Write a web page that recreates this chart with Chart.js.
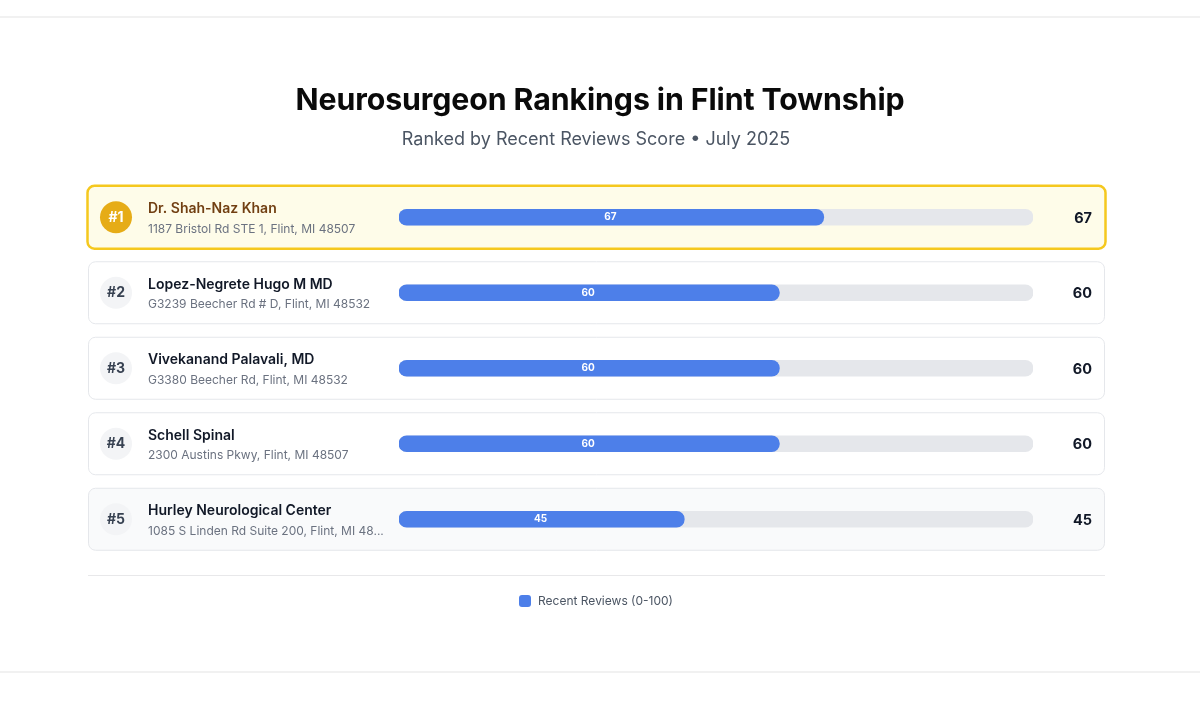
<!DOCTYPE html>
<html>
<head>
<meta charset="utf-8">
<script src="https://cdn.jsdelivr.net/npm/chart.js@4.4.1/dist/chart.umd.min.js"></script>
<style>
  html, body { margin: 0; padding: 0; background: #ffffff; }
  body { width: 1200px; height: 713px; position: relative; overflow: hidden; font-family: Inter, "Noto Sans", sans-serif; }
  .rule { position: absolute; left: 0; width: 1200px; height: 2px; background: #f1f1f1; }
  #chartWrap { position: absolute; left: 0; top: 0; width: 1200px; height: 713px; }
  h1 { position: absolute; left: 0; width: 1200px; top: 81px; margin: 0; text-align: center; font: 700 30.3px Inter, sans-serif; color: #0a0a0a; letter-spacing: -0.1px; padding-left: 0; }
  .sub { position: absolute; left: 0; width: 1192px; top: 128px; text-align: center; font: 400 18px Inter, sans-serif; color: #4b5563; }
  .sep { position: absolute; left: 88px; width: 1017px; top: 575px; height: 1px; background: #e8e8ea; }
  .legend { position: absolute; left: 0; width: 1192px; top: 593px; text-align: center; font: 400 12px Inter, sans-serif; color: #4b5563; }
  .legend .sw { display: inline-block; width: 12px; height: 12px; border-radius: 3px; background: #4d7fe9; vertical-align: -2px; margin-right: 7px; }
</style>
</head>
<body>
<div class="rule" style="top:16px"></div>
<div class="rule" style="top:671px"></div>
<div id="chartWrap"><canvas id="c" width="1200" height="713"></canvas></div>
<h1>Neurosurgeon Rankings in Flint Township</h1>
<div class="sub">Ranked by Recent Reviews Score • July 2025</div>
<div class="sep"></div>
<div class="legend"><span class="sw"></span>Recent Reviews (0-100)</div>
<script>
const names = ["Dr. Shah-Naz Khan", "Lopez-Negrete Hugo M MD", "Vivekanand Palavali, MD", "Schell Spinal", "Hurley Neurological Center"];
const addresses = ["1187 Bristol Rd STE 1, Flint, MI 48507", "G3239 Beecher Rd # D, Flint, MI 48532", "G3380 Beecher Rd, Flint, MI 48532", "2300 Austins Pkwy, Flint, MI 48507", "1085 S Linden Rd Suite 200, Flint, MI 48532"];
const ranks = ["#1", "#2", "#3", "#4", "#5"];
const scores = [67, 60, 60, 60, 45];
const maxScore = [100, 100, 100, 100, 100];

function roundRect(ctx, x, y, w, h, r) {
  ctx.beginPath();
  ctx.moveTo(x + r, y);
  ctx.lineTo(x + w - r, y);
  ctx.arcTo(x + w, y, x + w, y + r, r);
  ctx.lineTo(x + w, y + h - r);
  ctx.arcTo(x + w, y + h, x + w - r, y + h, r);
  ctx.lineTo(x + r, y + h);
  ctx.arcTo(x, y + h, x, y + h - r, r);
  ctx.lineTo(x, y + r);
  ctx.arcTo(x, y, x + r, y, r);
  ctx.closePath();
}

function truncate(ctx, text, maxW) {
  if (ctx.measureText(text).width <= maxW) return text;
  let t = text;
  while (t.length > 0 && ctx.measureText(t + "...").width > maxW) t = t.slice(0, -1);
  return t.trimEnd() + "...";
}

const cardsPlugin = {
  id: 'cards',
  beforeDatasetsDraw(chart) {
    const ctx = chart.ctx;
    const ys = chart.scales.y;
    ctx.save();
    names.forEach((n, i) => {
      const cy = ys.getPixelForValue(i);
      const top = cy - 31.5, h = 63;
      if (i === 0) {
        roundRect(ctx, 87.5, top, 1018, h, 7);
        ctx.fillStyle = '#fefce9';
        ctx.fill();
        ctx.lineWidth = 2.5;
        ctx.strokeStyle = '#f5c81e';
        ctx.stroke();
      } else {
        roundRect(ctx, 88.5, top + 0.5, 1016, h - 1, 7);
        ctx.fillStyle = i === 4 ? '#f9fafb' : '#ffffff';
        ctx.fill();
        ctx.lineWidth = 1;
        ctx.strokeStyle = '#e5e7eb';
        ctx.stroke();
      }
      // rank circle
      ctx.beginPath();
      ctx.arc(116, cy, 16, 0, Math.PI * 2);
      ctx.fillStyle = i === 0 ? '#e6ac17' : '#f3f4f6';
      ctx.fill();
      ctx.fillStyle = i === 0 ? '#ffffff' : '#374151';
      ctx.font = '700 14px Inter, sans-serif';
      ctx.textAlign = 'center';
      ctx.textBaseline = 'middle';
      ctx.fillText(ranks[i], 116, cy + 0.5);
      // name
      ctx.textAlign = 'left';
      ctx.font = '600 14px Inter, sans-serif';
      ctx.fillStyle = i === 0 ? '#713f12' : '#111827';
      ctx.fillText(n, 148, cy - 8);
      // address
      ctx.font = '400 12px Inter, sans-serif';
      ctx.fillStyle = '#6b7280';
      ctx.fillText(truncate(ctx, addresses[i], 236), 148, cy + 12);
      // right score
      ctx.font = '700 14.5px Inter, sans-serif';
      ctx.fillStyle = '#111827';
      ctx.textAlign = 'right';
      ctx.fillText(String(scores[i]), 1092, cy + 1);
    });
    ctx.restore();
  },
  afterDatasetsDraw(chart) {
    const ctx = chart.ctx;
    const meta = chart.getDatasetMeta(0);
    ctx.save();
    ctx.font = '700 10px Inter, sans-serif';
    ctx.fillStyle = '#ffffff';
    ctx.textAlign = 'center';
    ctx.textBaseline = 'middle';
    meta.data.forEach((bar, i) => {
      const x0 = bar.base, x1 = bar.x;
      ctx.fillText(String(scores[i]), (x0 + x1) / 2 - 1, bar.y);
    });
    ctx.restore();
  }
};

new Chart(document.getElementById('c'), {
  type: 'bar',
  data: {
    labels: names,
    datasets: [
      {
        label: 'Recent Reviews (0-100)',
        data: scores,
        backgroundColor: '#4d7fe9',
        borderRadius: 8,
        borderSkipped: false,
        barThickness: 16,
        grouped: false,
        order: 0
      },
      {
        label: 'track',
        data: maxScore,
        backgroundColor: '#e5e7eb',
        borderRadius: 8,
        borderSkipped: false,
        barThickness: 16,
        grouped: false,
        order: 1
      }
    ]
  },
  options: {
    indexAxis: 'y',
    responsive: false,
    animation: false,
    layout: { padding: { left: 399, right: 167, top: 179.5, bottom: 156 } },
    scales: {
      x: { display: false, min: 0, max: 100 },
      y: { display: false }
    },
    plugins: {
      legend: { display: false },
      tooltip: { enabled: false },
      title: { display: false }
    }
  },
  plugins: [cardsPlugin]
});
</script>
</body>
</html>
